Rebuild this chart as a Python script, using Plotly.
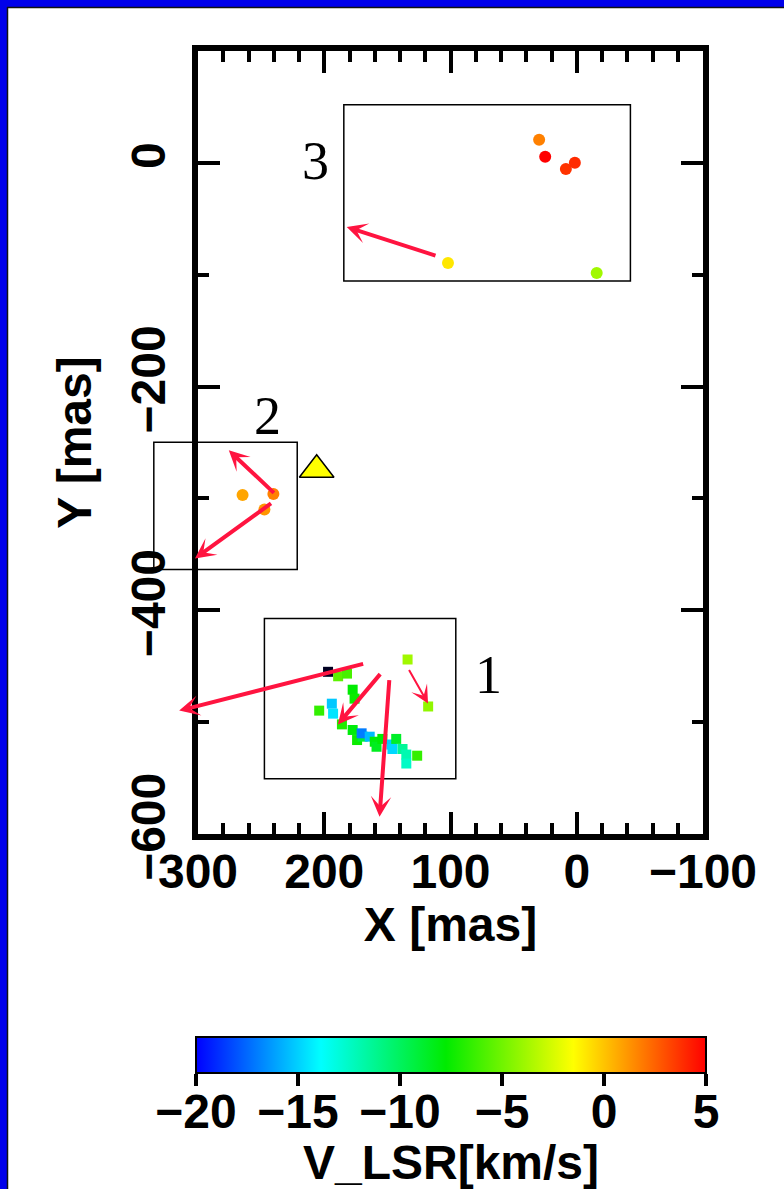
import plotly.graph_objects as go

W, H = 784, 1189

# ---------------- data (mas, km/s) ----------------
# Region 1 maser spots
b1_x = [189, 182, 177.5, 176, 194, 193, 204, 186, 177.5, 174, 169.6, 170.4, 164, 160,
        158.6, 154, 146.8, 146, 143, 138, 135, 135, 126.4, 134, 117.7]
b1_y = [-459, -456.6, -471, -479, -483.5, -492.4, -489.7, -502, -507, -516, -513, -510,
        -513, -517.5, -522, -515, -520, -524, -515, -524, -529, -537, -530, -444, -486]
b1_v = [-5.5, -6, -7.8, -7.5, -15.2, -14.5, -6.5, -7, -8, -7.5, -9, -17, -15.5, -8,
        -8.5, -7.8, -15, -14.8, -8.7, -11.4, -12, -12.5, -6.5, -3.8, -4.2]
# out-of-range (dark) spot in region 1
dark_x = [197]
dark_y = [-455]

# Region 2 maser spots
b2_x = [264.7, 240.3, 247.4]
b2_y = [-297, -296, -310]
b2_v = [0.8, 1.7, 1.2]

# Region 3 maser spots
b3_x = [29.8, 25, 8.6, 1.5, 102, -15.8]
b3_y = [20.6, 5.4, -5.4, 0, -89.5, -98.5]
b3_v = [1.75, 5, 3.7, 3.9, -0.9, -3.8]

# continuum peak (triangle)
tri_x = [206]
tri_y = [-274.4]

# region boxes: x0, x1, y0, y1
box_x0 = [247.4, 335, 184.5]
box_x1 = [95.8, 221.4, -42.5]
box_y0 = [-550.6, -363.5, -105.6]
box_y1 = [-407.3, -249.8, 52]
box_names = ["1", "2", "3"]
label_x = [70, 245, 207.3]
label_y = [-457.5, -226.5, 1.8]

# proper motion arrows: tail -> head
arr_tx = [110.7, 238.7, 241, 168, 154.7, 148.4, 133.5]
arr_ty = [-83.3, -296.3, -303.5, -447.6, -455.7, -461, -452]
arr_hx = [182.2, 275.6, 302.4, 314.9, 189.2, 156.2, 117.8]
arr_hy = [-57.3, -257, -353.6, -489.7, -502, -584.6, -483.4]
arr_w = [4, 4, 4, 4, 4, 4, 2]

x_range = [300, -100]
y_range = [-600, 100]
x_ticks = [300, 200, 100, 0, -100]
y_ticks = [0, -200, -400, -600]
cb_ticks = [-20, -15, -10, -5, 0, 5]
v_min, v_max = -20, 5

# ---------------- layout geometry (px) ----------------
xd = [198 / W, 703 / W]
yd = [1 - 834 / H, 1 - 51 / H]
cb_left, cb_right, cb_top, cb_bottom = 196, 706, 1037, 1073


def full_range(rng, dom):
    span = (rng[1] - rng[0]) / (dom[1] - dom[0])
    return [rng[0] - dom[0] * span, rng[0] + (1 - dom[0]) * span]


x2_range = full_range(x_range, xd)
y2_range = full_range(y_range, yd)

BOLD = dict(family="Liberation Sans", size=48, color="black", weight="bold")
RED = "rgb(255,20,64)"
BLUE = "rgb(0,0,235)"
cscale = [[0, "rgb(0,0,255)"], [0.245, "rgb(0,255,255)"], [0.49, "rgb(0,235,0)"],
          [0.74, "rgb(255,255,0)"], [1, "rgb(255,0,0)"]]

fig = go.Figure()
fig.add_trace(go.Scatter(x=b1_x, y=b1_y, mode="markers",
                         marker=dict(symbol="square", size=10, color=b1_v, coloraxis="coloraxis")))
fig.add_trace(go.Scatter(x=dark_x, y=dark_y, mode="markers",
                         marker=dict(symbol="square", size=10, color="#000022")))
fig.add_trace(go.Scatter(x=b2_x, y=b2_y, mode="markers",
                         marker=dict(symbol="circle", size=12, color=b2_v, coloraxis="coloraxis")))
fig.add_trace(go.Scatter(x=b3_x, y=b3_y, mode="markers",
                         marker=dict(symbol="circle", size=12, color=b3_v, coloraxis="coloraxis")))
fig.add_trace(go.Scatter(x=tri_x, y=tri_y, mode="markers", xaxis="x2", yaxis="y2",
                         marker=dict(symbol="triangle-up", size=30, color="yellow",
                                     line=dict(color="black", width=1.5))))
# carrier for the colour-bar scale axis
fig.add_trace(go.Scatter(x=[None], y=[None], mode="markers", xaxis="x3", yaxis="y3",
                         hoverinfo="skip"))

shapes = [
    dict(type="rect", xref="paper", yref="paper", x0=0, x1=7 / W, y0=0, y1=1,
         fillcolor=BLUE, line_width=0, layer="below"),
    dict(type="rect", xref="paper", yref="paper", x0=0, x1=1, y0=1 - 7 / H, y1=1,
         fillcolor=BLUE, line_width=0, layer="below"),
    dict(type="line", xref="paper", yref="paper", x0=7.5 / W, x1=7.5 / W, y0=0, y1=1 - 7 / H,
         line=dict(color="#111", width=1.5), layer="below"),
    dict(type="line", xref="paper", yref="paper", x0=7 / W, x1=1, y0=1 - 7.5 / H, y1=1 - 7.5 / H,
         line=dict(color="#111", width=1.5), layer="below"),
]
for i in range(len(box_x0)):
    shapes.append(dict(type="rect", xref="x2", yref="y2", x0=box_x0[i], x1=box_x1[i],
                       y0=box_y0[i], y1=box_y1[i], line=dict(color="black", width=1.5),
                       layer="above"))

annotations = []
for i in range(len(box_names)):
    annotations.append(dict(x=label_x[i], y=label_y[i], xref="x2", yref="y2",
                            text=box_names[i], showarrow=False,
                            font=dict(family="Liberation Serif", size=54, color="black")))
for i in range(len(arr_tx)):
    annotations.append(dict(x=arr_hx[i], y=arr_hy[i], ax=arr_tx[i], ay=arr_ty[i],
                            xref="x2", yref="y2", axref="x2", ayref="y2", text="",
                            showarrow=True, arrowhead=3,
                            arrowsize=0.85 if arr_w[i] > 2 else 1.5,
                            arrowwidth=arr_w[i], arrowcolor=RED, standoff=0))

axis_common = dict(showline=True, linewidth=6, linecolor="black", mirror="allticks",
                   ticks="inside", ticklen=22, tickwidth=4, tickcolor="black",
                   showgrid=False, zeroline=False, tickfont=BOLD, automargin=False)

fig.update_layout(
    width=W, height=H, margin=dict(l=0, r=0, t=0, b=0, autoexpand=False),
    paper_bgcolor="white", plot_bgcolor="rgba(0,0,0,0)", showlegend=False,
    xaxis=dict(axis_common, range=x_range, domain=xd, anchor="y", tickvals=x_ticks,
               ticklabelstandoff=-10,
               minor=dict(dtick=20, tick0=0, ticks="inside", ticklen=11, tickwidth=4,
                          tickcolor="black"),
               title=dict(text="X [mas]", font=BOLD, standoff=10)),
    yaxis=dict(axis_common, range=y_range, domain=yd, anchor="x", tickvals=y_ticks,
               tickangle=-90, ticklabelstandoff=8,
               minor=dict(dtick=100, tick0=0, ticks="inside", ticklen=11, tickwidth=4,
                          tickcolor="black"),
               title=dict(text="Y [mas]", font=BOLD, standoff=17)),
    xaxis2=dict(range=x2_range, domain=[0, 1], anchor="y2", visible=False),
    yaxis2=dict(range=y2_range, domain=[0, 1], anchor="x2", visible=False),
    xaxis3=dict(range=[v_min, v_max], domain=[cb_left / W, cb_right / W], anchor="free",
                position=1 - cb_bottom / H, showline=False, showgrid=False, zeroline=False,
                ticks="outside", ticklen=12, tickwidth=4, tickcolor="black",
                tickvals=cb_ticks, tickfont=BOLD, ticklabelstandoff=-16, automargin=False,
                title=dict(text="V_LSR[km/s]", font=BOLD, standoff=0)),
    yaxis3=dict(domain=[0, 0.001], anchor="x3", visible=False),
    coloraxis=dict(cmin=v_min, cmax=v_max, colorscale=cscale,
                   colorbar=dict(orientation="h", x=(cb_left + cb_right) / 2 / W,
                                 xanchor="center", y=1 - cb_top / H, yanchor="top",
                                 len=cb_right - cb_left, lenmode="pixels",
                                 thickness=cb_bottom - cb_top, thicknessmode="pixels",
                                 outlinewidth=2, outlinecolor="black", ticks="",
                                 showticklabels=False, xpad=0, ypad=0)),
    shapes=shapes, annotations=annotations,
)

fig.write_html("out.html")
